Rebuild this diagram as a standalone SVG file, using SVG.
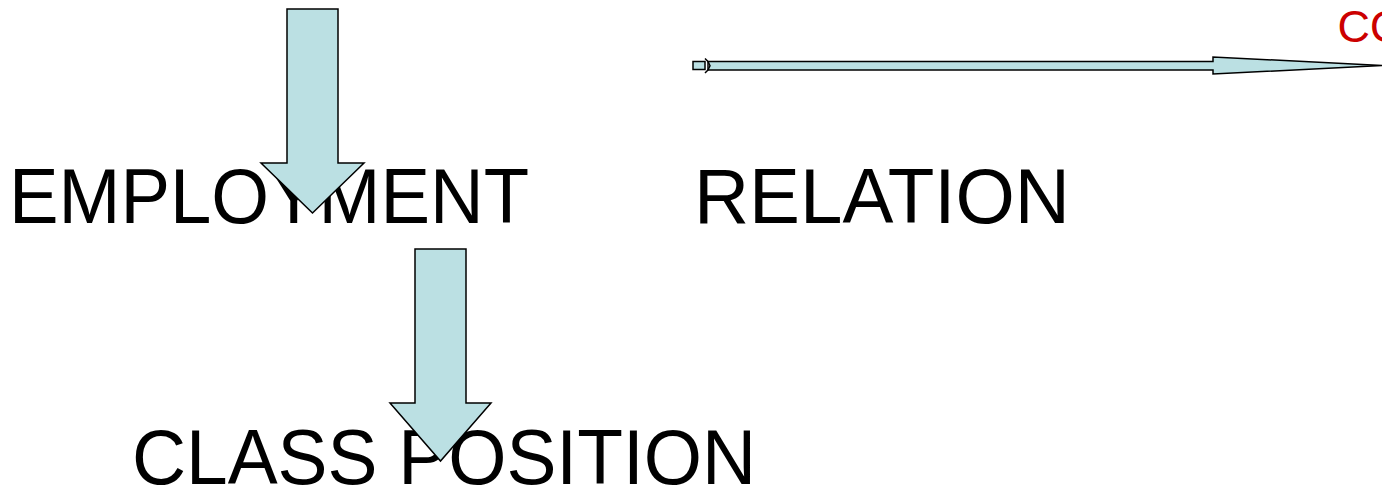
<svg xmlns="http://www.w3.org/2000/svg" width="1382" height="485" viewBox="0 0 1382 485">
<style>
.lbl{font-family:"Liberation Sans",Arial,sans-serif;font-size:77px;fill:#000}
.red{font-family:"Liberation Sans",Arial,sans-serif;font-size:45px;fill:#CC0000}
.arr{fill:#BBE0E3;stroke:#000;stroke-width:1.5;stroke-linejoin:miter}
</style>
<rect width="1382" height="485" fill="#fff"/>
<g id="employment"><text class="lbl" x="9" y="222.5" textLength="520" lengthAdjust="spacingAndGlyphs">EMPLOYMENT</text></g>
<g id="relation"><text class="lbl" x="694" y="222.5" textLength="376" lengthAdjust="spacingAndGlyphs">RELATION</text></g>
<g id="class-position"><text class="lbl" x="132" y="483.5" textLength="624" lengthAdjust="spacingAndGlyphs">CLASS POSITION</text></g>
<g id="co"><text class="red" x="1337.5" y="41.5">CO</text></g>
<g id="connectors">
<path class="arr" d="M287,9 L338,9 L338,163 L364,163 L312.5,213 L261,163 L287,163 Z"/>
<path class="arr" d="M415,249 L466,249 L466,403 L491,403 L440.5,461 L390,403 L415,403 Z"/>
<path class="arr" d="M693,61.5 L705,61.5 L705,69.5 L693,69.5 Z"/>
<path class="arr" d="M708,61.5 L1213,61.5 L1213,57 L1382,65.5 L1213,74 L1213,70 L708,70 L710,65.75 Z"/>
<path d="M705,58.5 L708,61.5 L708,70 L705,73" fill="none" stroke="#000" stroke-width="1.5"/>
</g>
</svg>
